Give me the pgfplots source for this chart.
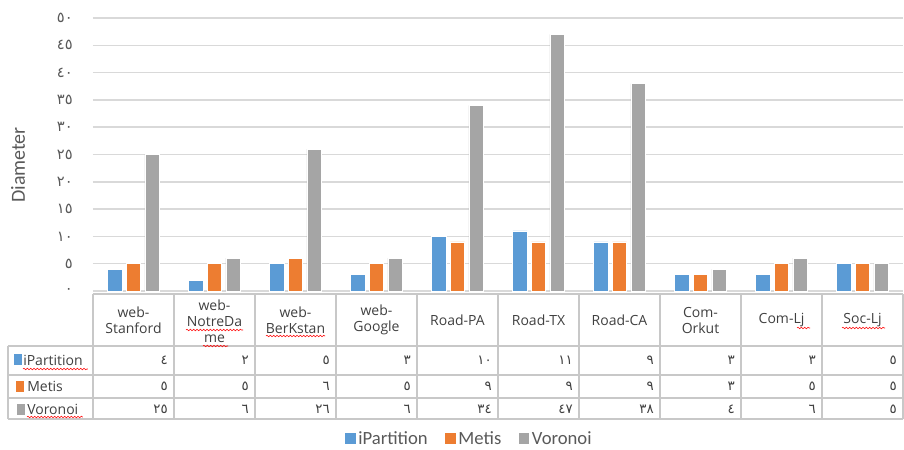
\documentclass[border=0pt]{standalone}
\usepackage{fontspec}
\setmainfont{Carlito}
\newfontfamily\tabfont{Open Sans}
\newfontfamily\arabicfont{DejaVu Sans}
\usepackage{pgfplots}
\pgfplotsset{compat=1.18}
\usepackage{pgfplotstable}
\usetikzlibrary{decorations.pathmorphing}
\definecolor{cblue}{HTML}{5B9BD5}
\definecolor{corange}{HTML}{ED7D31}
\definecolor{cgray}{HTML}{A5A5A5}
\definecolor{gridc}{HTML}{D9D9D9}
\definecolor{txt}{HTML}{595959}
\definecolor{tabtxt}{HTML}{404040}
\definecolor{border}{HTML}{C8C8C8}

\pgfplotstableread{
x ip me vo
0 4 5 25
1 2 5 6
2 5 6 26
3 3 5 6
4 10 9 34
5 11 9 47
6 9 9 38
7 3 3 4
8 3 5 6
9 5 5 5
}\data

\begin{document}
\begin{tikzpicture}
\begin{axis}[
  at={(0,0)}, anchor=south west,
  scale only axis, width=607.5pt, height=204.75pt,
  xmin=-0.5, xmax=9.5, ymin=0, ymax=50,
  ybar=3.15pt, bar width=10.75pt,
  axis line style={draw=none},
  xtick=\empty,
  ytick={0,5,...,50},
  yticklabels={٠,٥,١٠,١٥,٢٠,٢٥,٣٠,٣٥,٤٠,٤٥,٥٠},
  yticklabel style={font=\arabicfont\fontsize{11}{12}\selectfont, text=txt, anchor=east, inner sep=0pt, xshift=-15pt},
  major tick length=0pt,
  ymajorgrids, grid style={color=gridc, line width=1.1pt},
  ylabel={Diameter},
  ylabel style={font=\fontsize{15}{15}\selectfont, text=txt, at={(axis description cs:-0.0926,0.4615)}, anchor=center},
  legend columns=3,
  legend style={at={(0.465,-0.542)}, anchor=center, draw=none, fill=none,
    font=\fontsize{14}{15}\selectfont, text=txt,
    /tikz/every even column/.append style={column sep=11pt}},
  legend image code/.code={\fill[#1,draw=none] (0pt,-4pt) rectangle (8pt,4.5pt);},
]
\addplot[fill=cblue, draw=white, line width=0.5pt] table[x=x,y=ip]{\data};
\addplot[fill=corange, draw=white, line width=0.5pt] table[x=x,y=me]{\data};
\addplot[fill=cgray, draw=white, line width=0.5pt] table[x=x,y=vo]{\data};
\legend{iPartition, Metis, Voronoi}
\end{axis}
\begin{scope}[x=0.75pt,y=-0.75pt,shift={(-93,-291)}]
  % table grid
  \draw[border, line width=1.1pt] (93,294) -- (903,294);
  \foreach \yy in {346,375,398,419} {\draw[border, line width=1.1pt] (8,\yy) -- (903,\yy);}
  \draw[border, line width=1.1pt] (8,346) -- (8,419);
  \foreach \xx in {93,174,255,336,417,498,579,660,741,822,903} {\draw[border, line width=1.1pt] (\xx,294) -- (\xx,419);}
  % header
  \begin{scope}[every node/.style={font=\tabfont\fontsize{10.5}{12}\selectfont, text=tabtxt, align=center, anchor=center, inner sep=0pt}]
    \node at (133.5,320) {web-\\Stanford};
    \node at (214.5,321) {web-\\NotreDa\\me};
    \node at (295.5,320) {web-\\BerKstan};
    \node at (376.5,320) {web-\\Google};
    \node at (457.5,320) {Road-PA};
    \node at (538.5,320) {Road-TX};
    \node at (619.5,320) {Road-CA};
    \node at (700.5,320) {Com-\\Orkut};
    \node at (781.5,320) {Com-Lj};
    \node at (862.5,320) {Soc-Lj};
  \end{scope}
  % row labels
  \fill[cblue] (14,354) rectangle (22,365);
  \fill[corange] (16,381) rectangle (24,392);
  \fill[cgray] (17,404) rectangle (25,415);
  \begin{scope}[every node/.style={font=\tabfont\fontsize{10.5}{12}\selectfont, text=tabtxt, anchor=west, inner sep=0pt}]
    \node at (23,360) {iPartition};
    \node at (27,386) {Metis};
    \node at (27,409) {Voronoi};
  \end{scope}
  % values
  \begin{scope}[every node/.style={font=\arabicfont\fontsize{10}{11}\selectfont, text=tabtxt, anchor=east, inner sep=0pt}]
    \foreach \v [count=\i from 0] in {٤,٢,٥,٣,١٠,١١,٩,٣,٣,٥} {\node at (168+81*\i,360) {\v};}
    \foreach \v [count=\i from 0] in {٥,٥,٦,٥,٩,٩,٩,٣,٥,٥} {\node at (168+81*\i,386) {\v};}
    \foreach \v [count=\i from 0] in {٢٥,٦,٢٦,٦,٣٤,٤٧,٣٨,٤,٦,٥} {\node at (168+81*\i,409) {\v};}
  \end{scope}
  % spell-check squiggles
  \begin{scope}[red, line width=0.4pt, decorate, decoration={snake, amplitude=0.6pt, segment length=2.5pt}]
    \draw[decorate] (186,330) -- (243,330);
    \draw[decorate] (203,346) -- (228,346);
    \draw[decorate] (266,336) -- (325,336);
    \draw[decorate] (23,369) -- (88,369);
    \draw[decorate] (27,417) -- (83,417);
    \draw[decorate] (797,328) -- (810,328);
    \draw[decorate] (842,328) -- (885,328);
  \end{scope}
  \pgfresetboundingbox
  \path (0,0) rectangle (904,450);
\end{scope}
\end{tikzpicture}
\end{document}
